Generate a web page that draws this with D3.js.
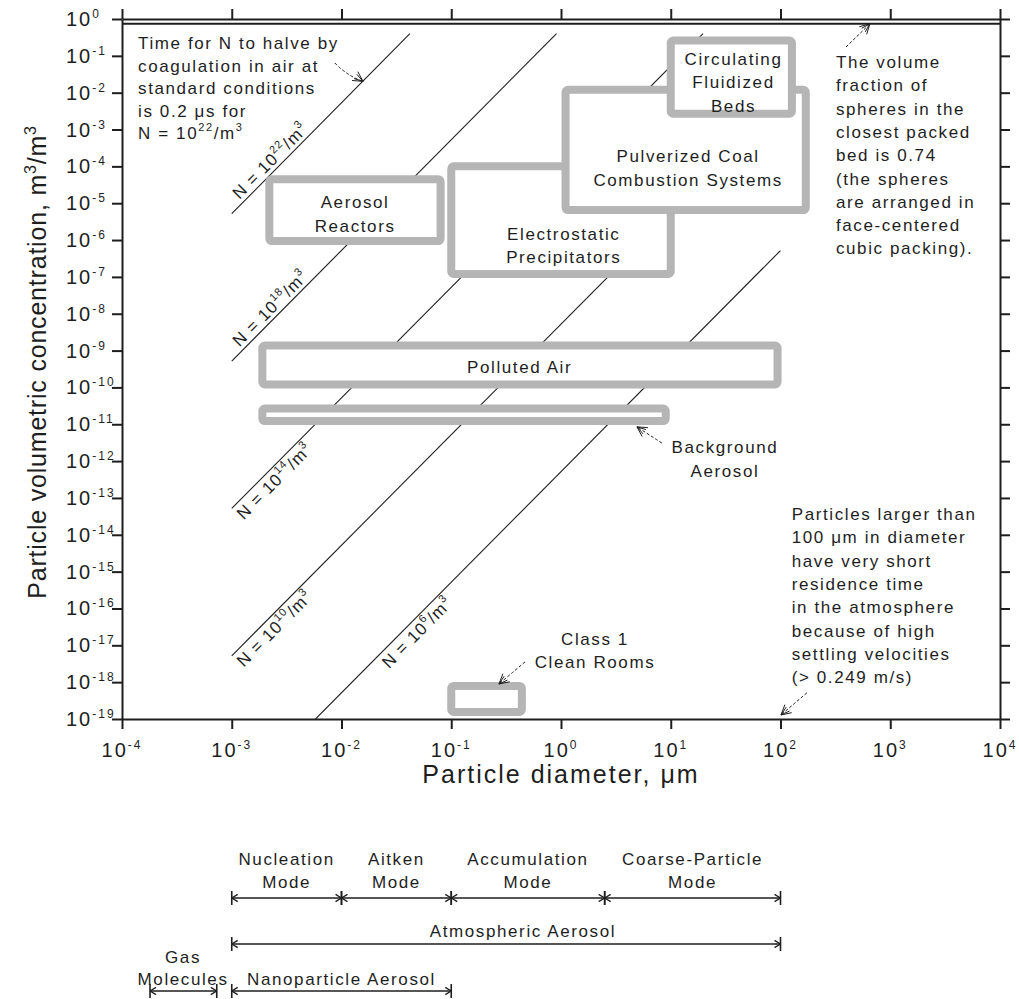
<!DOCTYPE html>
<html><head><meta charset="utf-8">
<script src="https://cdn.jsdelivr.net/npm/d3@7/dist/d3.min.js"></script>
<style>
html,body{margin:0;padding:0;background:#fff;}
svg text{font-family:"Liberation Sans",Arial,Helvetica,sans-serif;fill:#1e1e1e;}
</style></head><body>
<svg id="chart" width="1019" height="999"></svg>
<script>
// ---------------- data ----------------
const xTickExp = [-4,-3,-2,-1,0,1,2,3,4];
const yTickExp = [0,-1,-2,-3,-4,-5,-6,-7,-8,-9,-10,-11,-12,-13,-14,-15,-16,-17,-18,-19];
const packedFraction = 0.74;

// iso-number-concentration lines (N in m^-3), endpoints
const lineExp      = ["22","18","14","10","6"];
const lineStartD   = [1e-3, 1e-3, 1e-3, 1e-3, 5.8e-3];
const lineStartPhi = [5.2e-6, 5.2e-10, 5.2e-14, 5.2e-18, 1e-19];
const lineEndD     = [0.042, 0.91, 19.7, 100, 100];
const lineEndPhi   = [0.4, 0.4, 0.4, 5.2e-3, 5.2e-7];
const lineLabelD   = [1.25e-3, 1.25e-3, 1e-3, 1e-3, 0.021];
const lineLabelSide= ["above","above","below","below","below"];

// regions (boxes)
const regionNames  = ["Aerosol Reactors","Electrostatic Precipitators","Pulverized Coal Combustion Systems","Circulating Fluidized Beds","Polluted Air","Background Aerosol","Class 1 Clean Rooms"];
const regionDMin   = [0.0022, 0.1, 1.1, 10, 0.0019, 0.0019, 0.1];
const regionDMax   = [0.08, 10, 170, 127, 94, 9, 0.44];
const regionPhiMin = [9.4e-7, 1.2e-7, 6.5e-6, 2.7e-3, 1.2e-10, 1.22e-11, 1.55e-19];
const regionPhiMax = [4.5e-5, 1e-4, 1.2e-2, 0.26, 1.37e-9, 2.67e-11, 7.9e-19];
const regionLabelLines = [["Aerosol","Reactors"],["Electrostatic","Precipitators"],["Pulverized Coal","Combustion Systems"],["Circulating","Fluidized","Beds"],["Polluted Air"],[],[]];
const regionLabelD   = [0.0133, 1.06, 14.4, 37.3, 0.42, null, null];
const regionLabelPhi = [5.8e-6, 8.1e-7, 1.02e-4, 0.0217, 4.07e-10, null, null];

// free annotations
const noteLines = [
  ["Time for N to halve by","coagulation in air at","standard conditions","is 0.2 μs for","N = 10^{22}/m^{3}"],
  ["The volume","fraction of","spheres in the","closest packed","bed is 0.74","(the spheres","are arranged in","face-centered","cubic packing)."],
  ["Particles larger than","100 μm in diameter","have very short","residence time","in the atmosphere","because of high","settling velocities","(> 0.249 m/s)"],
  ["Background","Aerosol"],
  ["Class 1","Clean Rooms"]
];
const noteD      = [1.4e-4, 320, 126.5, 31.2, 2.04];
const notePhi    = [Math.pow(10,-0.814), Math.pow(10,-1.33), Math.pow(10,-13.6), Math.pow(10,-11.78), Math.pow(10,-16.99)];
const noteAnchor = ["start","start","start","middle","middle"];

// annotation arrows: tail -> tip
const arrowTailD   = [8.7e-3, 395, 8.3, 0.47, 174];
const arrowTailPhi = [Math.pow(10,-1.194), Math.pow(10,-0.76), Math.pow(10,-11.51), Math.pow(10,-17.45), Math.pow(10,-18.29)];
const arrowTipD    = [0.0157, 653, 4.92, 0.272, 101];
const arrowTipPhi  = [0.0203, 0.74, Math.pow(10,-11.07), Math.pow(10,-18.05), Math.pow(10,-18.89)];

// size ranges below the chart
const modeNames  = [["Nucleation","Mode"],["Aitken","Mode"],["Accumulation","Mode"],["Coarse-Particle","Mode"]];
const modeBounds = [1e-3, 1e-2, 1e-1, 2.5, 100];
const rangeNames = [["Atmospheric Aerosol"],["Gas","Molecules"],["Nanoparticle Aerosol"]];
const rangeFrom  = [1e-3, 1.8e-4, 1e-3];
const rangeTo    = [100, 7.3e-4, 0.1];
const rangeLabelD= [0.45, 3.6e-4, 0.01];

// ---------------- drawing ----------------
const svg = d3.select("#chart");
const X0=122, X1=1000, Y0=19, Y1=719;
const x = d3.scaleLog().domain([1e-4,1e4]).range([X0,X1]);
const y = d3.scaleLog().domain([1e-19,1]).range([Y1,Y0]);
const ink = "#1e1e1e", boxGray = "#b5b5b5";

function rich(textSel, str, supSize, supDy){
  const parts = str.split(/(\^\{[^}]*\})/).filter(s=>s.length);
  let shift = 0;
  parts.forEach(p=>{
    if(p.startsWith("^{")){
      textSel.append("tspan").attr("font-size",supSize).attr("dy",-supDy - shift).text(p.slice(2,-1));
      shift = -supDy;
    } else {
      textSel.append("tspan").attr("dy",-shift).text(p);
      shift = 0;
    }
  });
}

svg.append("defs").append("clipPath").attr("id","plotclip")
  .append("rect").attr("x",X0).attr("y",Y0).attr("width",X1-X0).attr("height",Y1-Y0);

// diagonal lines
const lineGen = d3.line().x(d=>x(d[0])).y(d=>y(d[1]));
const gLines = svg.append("g").attr("clip-path","url(#plotclip)");
lineExp.forEach((e,i)=>{
  gLines.append("path")
    .attr("d", lineGen([[lineStartD[i],lineStartPhi[i]],[lineEndD[i],lineEndPhi[i]]]))
    .attr("fill","none").attr("stroke",ink).attr("stroke-width",1.1);
});

// regions
const gBoxes = svg.append("g");
regionNames.forEach((n,i)=>{
  const x0=x(regionDMin[i]), x1=x(regionDMax[i]), y0=y(regionPhiMax[i]), y1=y(regionPhiMin[i]);
  gBoxes.append("rect").attr("x",x0).attr("y",y0).attr("width",x1-x0).attr("height",y1-y0)
    .attr("rx",2.5).attr("fill","#fff").attr("stroke",boxGray).attr("stroke-width",8);
});
regionLabelLines.forEach((ls,i)=>{
  if(!ls.length) return;
  const cx = x(regionLabelD[i]), cy = y(regionLabelPhi[i]);
  ls.forEach((l,j)=>{
    gBoxes.append("text").attr("x",cx).attr("y",cy + (j-(ls.length-1)/2)*23.5 + 8)
      .attr("text-anchor","middle").attr("font-size",17).attr("letter-spacing",1.6).text(l);
  });
});

// line labels
lineExp.forEach((e,i)=>{
  const la = Math.log10(lineStartD[i]), lb = Math.log10(lineEndD[i]);
  const pa = Math.log10(lineStartPhi[i]), pb = Math.log10(lineEndPhi[i]);
  const ld = Math.log10(lineLabelD[i]);
  const lp = pa + (ld-la)*(pb-pa)/(lb-la);
  const px = x(lineLabelD[i]), py = y(Math.pow(10,lp));
  const ang = Math.atan2(y(lineEndPhi[i])-y(lineStartPhi[i]), x(lineEndD[i])-x(lineStartD[i]))*180/Math.PI;
  const t = svg.append("text")
    .attr("transform",`translate(${px},${py}) rotate(${ang})`)
    .attr("x",0).attr("y", lineLabelSide[i]==="above" ? -4 : 17)
    .attr("font-size",17).attr("letter-spacing",1);
  rich(t, `N = 10^{${e}}/m^{3}`, 11, 8);
});

// 0.74 line
svg.append("line").attr("x1",X0).attr("x2",X1).attr("y1",y(packedFraction)).attr("y2",y(packedFraction))
  .attr("stroke",ink).attr("stroke-width",2);

// axes
const xTicks = xTickExp.map(e=>Math.pow(10,e));
const yTicks = yTickExp.map(e=>Math.pow(10,e));
function styleAxis(g){
  g.selectAll("path").attr("stroke",ink).attr("stroke-width",2);
  g.selectAll("line").attr("stroke",ink).attr("stroke-width",2);
  g.selectAll("text").remove();
}
svg.append("g").attr("transform",`translate(${X0},0)`).call(d3.axisLeft(y).tickValues(yTicks).tickSize(10).tickSizeOuter(0).tickFormat("")).call(styleAxis);
svg.append("g").attr("transform",`translate(${X1},0)`).call(d3.axisRight(y).tickValues(yTicks).tickSize(10).tickSizeOuter(0).tickFormat("")).call(styleAxis);
svg.append("g").attr("transform",`translate(0,${Y1})`).call(d3.axisBottom(x).tickValues(xTicks).tickSize(10).tickSizeOuter(0).tickFormat("")).call(styleAxis);
svg.append("g").attr("transform",`translate(0,${Y0})`).call(d3.axisTop(x).tickValues(xTicks).tickSize(10).tickSizeOuter(0).tickFormat("")).call(styleAxis);

// tick labels
yTickExp.forEach(e=>{
  const t = svg.append("text").attr("x",66).attr("y",y(Math.pow(10,e))+7).attr("font-size",20).attr("letter-spacing",2);
  rich(t, `10^{${e}}`, 12, 8);
});
xTickExp.forEach(e=>{
  const t = svg.append("text").attr("x",x(Math.pow(10,e))).attr("y",757).attr("text-anchor","middle").attr("font-size",20).attr("letter-spacing",2);
  rich(t, `10^{${e}}`, 12, 8);
});

// axis titles
svg.append("text").attr("x",561).attr("y",783).attr("text-anchor","middle").attr("font-size",25).attr("letter-spacing",2)
  .text("Particle diameter, μm");
const yt = svg.append("text").attr("transform",`translate(46,362) rotate(-90)`).attr("text-anchor","middle")
  .attr("font-size",25).attr("letter-spacing",0.8);
rich(yt, "Particle volumetric concentration, m^{3}/m^{3}", 16, 10);

// notes
noteLines.forEach((ls,i)=>{
  const lh = [22.6,23.3,23.3,24,23][i];
  ls.forEach((l,j)=>{
    const t = svg.append("text").attr("x",x(noteD[i])).attr("y",y(notePhi[i]) + j*lh)
      .attr("text-anchor",noteAnchor[i]).attr("font-size",17).attr("letter-spacing",1.6);
    rich(t, l, 11, 8);
  });
});

// arrows
function arrowHead(g, tx, ty, ang, len, spread, w){
  [-1,1].forEach(s=>{
    [spread, spread*0.55].forEach((sp,k)=>{
      const a = ang + Math.PI + s*sp;
      const L = k===0 ? len : len*0.85;
      g.append("line").attr("x1",tx).attr("y1",ty).attr("x2",tx+L*Math.cos(a)).attr("y2",ty+L*Math.sin(a))
        .attr("stroke",ink).attr("stroke-width",w);
    });
  });
}
arrowTailD.forEach((d,i)=>{
  const x1=x(d), y1=y(arrowTailPhi[i]), x2=x(arrowTipD[i]), y2=y(arrowTipPhi[i]);
  const g = svg.append("g");
  const mx=(x1+x2)/2, my=(y1+y2)/2;
  const ang = Math.atan2(y2-y1,x2-x1);
  const bend = i===0 ? 4 : 0;
  g.append("path").attr("d",`M${x1},${y1} Q${mx - bend*Math.sin(ang)},${my + bend*Math.cos(ang)} ${x2},${y2}`)
    .attr("fill","none").attr("stroke",ink).attr("stroke-width",1).attr("stroke-dasharray","3,2");
  arrowHead(g, x2, y2, ang, 11, 0.5, 1);
});

// size range bars
function rangeBar(g, xa, xb, yy, leftCap, rightCap){
  g.append("line").attr("x1",xa).attr("x2",xb).attr("y1",yy).attr("y2",yy).attr("stroke",ink).attr("stroke-width",1.6);
  [[xa,Math.PI],[xb,0]].forEach(([px,ang])=>{
    [-1,1].forEach(s=>{
      const a = ang + Math.PI + s*0.55;
      g.append("line").attr("x1",px).attr("y1",yy).attr("x2",px+7*Math.cos(a)).attr("y2",yy+7*Math.sin(a))
        .attr("stroke",ink).attr("stroke-width",1.4);
    });
  });
  if(leftCap) g.append("line").attr("x1",xa).attr("x2",xa).attr("y1",yy-7).attr("y2",yy+7).attr("stroke",ink).attr("stroke-width",1.6);
  if(rightCap) g.append("line").attr("x1",xb).attr("x2",xb).attr("y1",yy-7).attr("y2",yy+7).attr("stroke",ink).attr("stroke-width",1.6);
}
const gb = svg.append("g");
const modeBarY = 898;
modeNames.forEach((ls,i)=>{
  const xa = x(modeBounds[i]), xb = x(modeBounds[i+1]);
  rangeBar(gb, xa, xb, modeBarY, true, true);
  ls.forEach((l,j)=>{
    gb.append("text").attr("x",x(Math.sqrt(modeBounds[i]*modeBounds[i+1]))).attr("y",865 + j*23)
      .attr("text-anchor","middle").attr("font-size",17).attr("letter-spacing",1.6).text(l);
  });
});
const rangeBarY = [944, 991, 991];
const rangeTextY = [[937],[963,985],[985]];
rangeNames.forEach((ls,i)=>{
  rangeBar(gb, x(rangeFrom[i]), x(rangeTo[i]), rangeBarY[i], true, true);
  ls.forEach((l,j)=>{
    gb.append("text").attr("x",x(rangeLabelD[i])).attr("y",rangeTextY[i][j])
      .attr("text-anchor","middle").attr("font-size",17).attr("letter-spacing",1.6).text(l);
  });
});
</script>
</body></html>
